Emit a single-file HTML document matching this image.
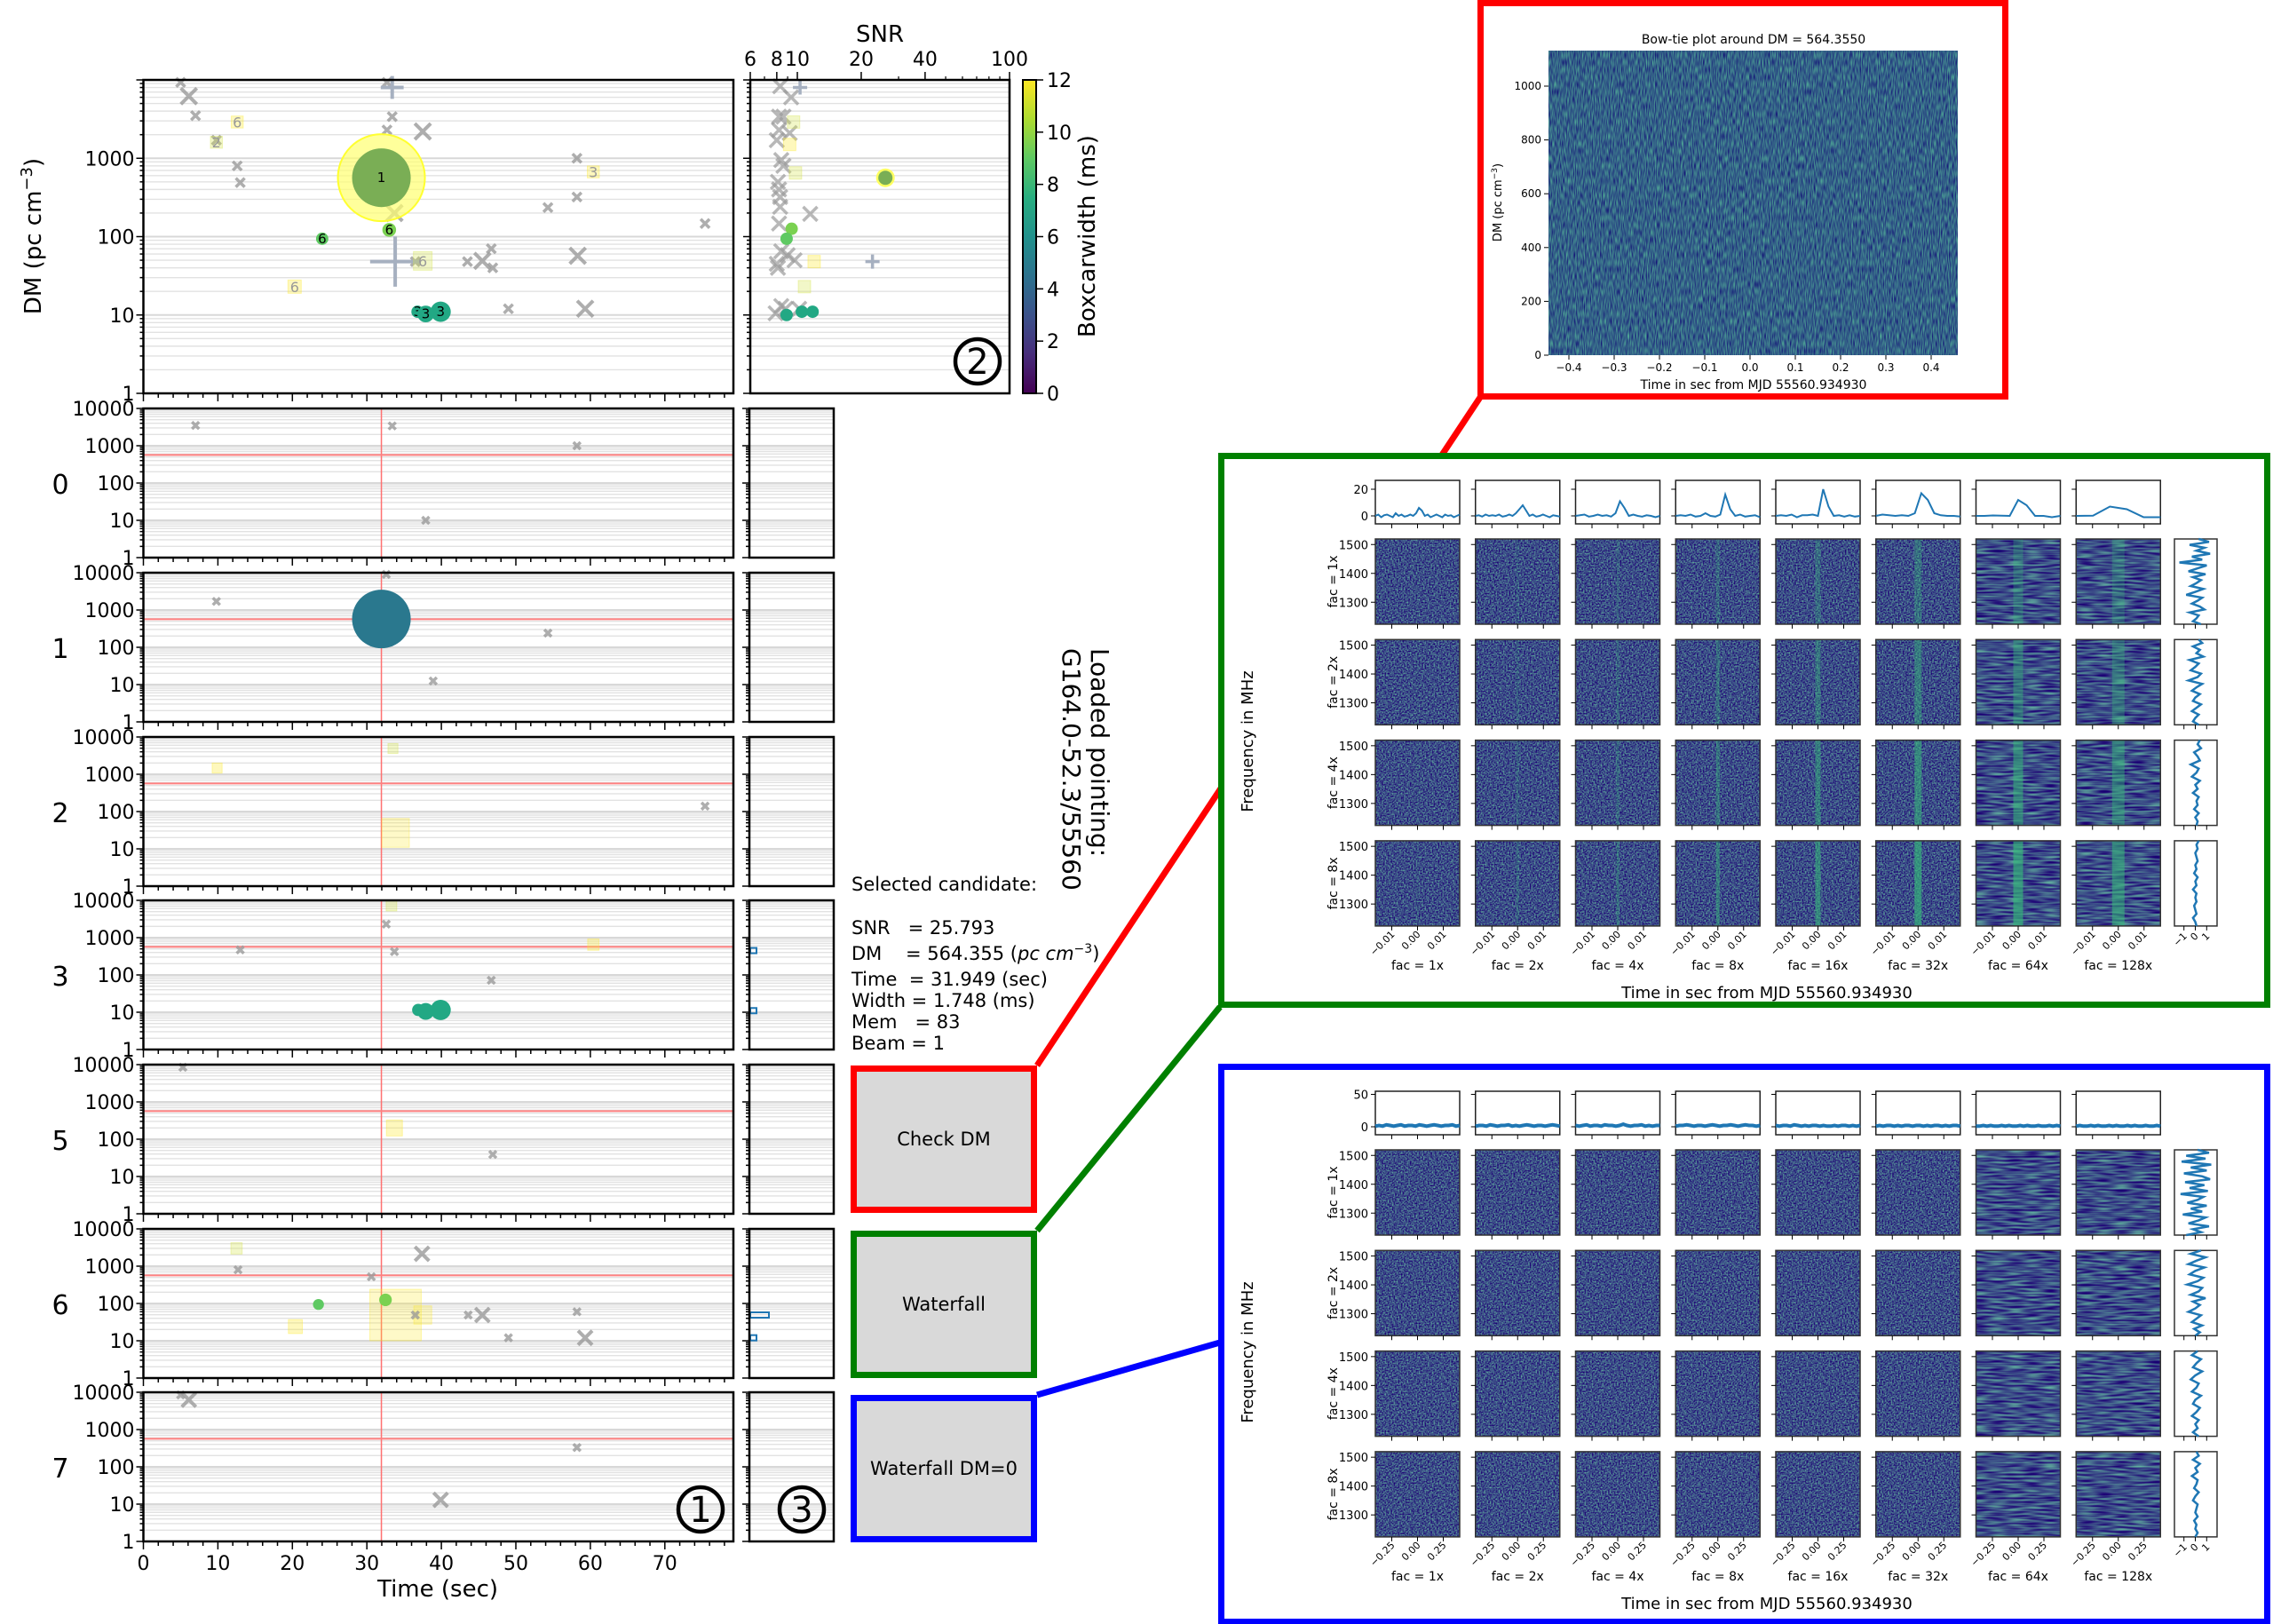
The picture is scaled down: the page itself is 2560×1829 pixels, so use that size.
<!DOCTYPE html>
<html><head><meta charset="utf-8">
<style>
html,body{margin:0;padding:0;background:#fff;}
svg{display:block;font-family:"DejaVu Sans","Liberation Sans",sans-serif;}
</style></head>
<body>
<svg id="fig" xmlns="http://www.w3.org/2000/svg" width="2560" height="1829" viewBox="0 0 2560 1829">
<defs>
<linearGradient id="viridis" x1="0" y1="1" x2="0" y2="0">
<stop offset="0" stop-color="#440154"/><stop offset="0.125" stop-color="#472d7b"/><stop offset="0.25" stop-color="#3b528b"/><stop offset="0.375" stop-color="#2c728e"/><stop offset="0.5" stop-color="#21918c"/><stop offset="0.625" stop-color="#28ae80"/><stop offset="0.75" stop-color="#5ec962"/><stop offset="0.875" stop-color="#addc30"/><stop offset="1" stop-color="#fde725"/>
</linearGradient>
<filter id="nf" x="0" y="0" width="1" height="1" color-interpolation-filters="sRGB"><feTurbulence type="fractalNoise" baseFrequency="0.6 0.6" numOctaves="1" seed="4"/><feColorMatrix type="matrix" values="0.5 0 0 0 -0.02  1.3 0 0 0 -0.35  0.3 0 0 0 0.38  0 0 0 0 1"/></filter>
<filter id="nh" x="0" y="0" width="1" height="1" color-interpolation-filters="sRGB"><feTurbulence type="fractalNoise" baseFrequency="0.05 0.45" numOctaves="1" seed="7"/><feColorMatrix type="matrix" values="0.5 0 0 0 -0.02  1.3 0 0 0 -0.35  0.3 0 0 0 0.38  0 0 0 0 1"/></filter>
<filter id="nv" x="0" y="0" width="1" height="1" color-interpolation-filters="sRGB"><feTurbulence type="fractalNoise" baseFrequency="0.9 0.12" numOctaves="1" seed="9"/><feColorMatrix type="matrix" values="0.4 0 0 0 0.0  1.0 0 0 0 -0.12  0.2 0 0 0 0.43  0 0 0 0 1"/></filter>
</defs>
</svg>
<script>
// ---------------- DATA ----------------
const dmTickLabels=['1','10','100','1000','10000'];
const timeTicks=[0,10,20,30,40,50,60,70];
const snrTicks=[6,8,10,20,40,100];
const cbTicks=[0,2,4,6,8,10,12];
const beamNames=['0','1','2','3','5','6','7'];
const selT=31.949, selDM=564.355;

const mainXT=[5.0,6.1,7.0,9.8,12.6,13.0,32.7,33.4,32.7,37.5,58.2,58.2,54.3,75.4,46.7,43.5,45.5,46.9,36.5,58.3,49.0,59.3,33.7];
const mainXDM=[9300,6200,3500,1700,800,490,9300,3400,2300,2200,1000,320,235,147,70,48,49,40,48,57,12,12,200];
const mainXBig=[0,1,0,0,0,0,0,0,0,1,0,0,0,0,0,0,1,0,0,1,0,1,1];
const mainSqT=[12.6,9.8,60.4,37.5,20.3];
const mainSqDM=[2900,1600,670,49,23];
const mainSqBeam=['6','2','3','6','6'];
const mainSqSNR=[9,9,9,14,10];
const mainCT=[24.0,33.0,36.8,37.9,39.9,31.949];
const mainCDM=[94,122,11,10.3,11,564.355];
const mainCBeam=['6','6','3','3','3','1'];
const mainCW=[9,10,7,7,7,8.5];
const mainCSNR=[8.9,9.4,8.9,10.5,11.8,25.793];
const mainPlusT=[33.4,33.8];
const mainPlusDM=[8000,48];
const mainPlusSNR=[10.3,22.6];

const snrXS=[8.3,9.35,8.2,8.6,8.2,9.2,8.0,8.4,8.6,8.1,8.2,8.3,8.3,11.5,8.2,8.4,9.0,9.7,8.0,8.1,8.4,8.8,7.9,10.2];
const snrXDM=[8300,6000,3400,3400,2300,2100,1700,950,800,500,400,320,240,195,147,65,58,50,45,40,13,12,10.5,12];
const snrSqS=[9.6,9.2,9.8,12.0,10.8];
const snrSqDM=[2900,1500,650,48,23];
const snrCS=[26,9.4,8.9,8.9,10.5,11.8];
const snrCDM=[564,126,94,10,11,11];
const snrCW=[8.5,10,9,7,7,7];
const snrPlusS=[10.3,22.6];
const snrPlusDM=[8000,48];

const beamXT=[[7.0,33.4,58.2,37.9],[32.6,9.8,54.3,38.9],[75.4],[32.6,13.0,33.7,46.7],[5.3,46.9],[12.7,30.6,37.4,36.5,43.6,45.5,49.0,58.2,59.3],[5.0,6.1,58.2,39.9]];
const beamXDM=[[3500,3400,1000,10],[9000,1700,240,12.5],[140],[2300,470,420,72],[8500,39],[800,520,2150,49,49,49,12,60,12],[8500,6300,330,13]];
const beamXBig=[[0,0,0,0],[0,0,0,0],[0],[0,0,0,0],[0,0],[0,0,1,0,0,1,0,0,1],[0,1,0,1]];
const beamSqT=[[],[],[9.9,33.5],[33.3,60.4],[33.7],[12.5,20.4],[]];
const beamSqDM=[[],[],[1470,4900],[7200,650],[200],[3000,24],[]];
const beamSqSNR=[[],[],[7.5,7.5],[8,8.5],[12],[8.5,10.5],[]];
const beamBoxT0=[[],[],[32.0],[],[],[30.4,36.3],[]];
const beamBoxT1=[[],[],[35.7],[],[],[37.3,38.7],[]];
const beamBoxDM0=[[],[],[11],[],[],[10,28],[]];
const beamBoxDM1=[[],[],[65],[],[],[240,86],[]];
const beamCT=[[],[31.949],[],[36.9,37.9,39.9],[],[23.5,32.5],[]];
const beamCDM=[[],[575],[],[11.5,10.5,11.5],[],[94,125],[]];
const beamCW=[[],[5],[],[7,7,7],[],[9,10],[]];
const beamCSNR=[[],[25.8],[],[8.9,10.5,11.8],[],[8.4,9.0],[]];
const histDM=[[],[],[],[450,11],[],[49,12],[]];
const histCount=[[],[],[],[1,1],[],[3,1],[]];

const facLabels=['1x','2x','4x','8x','16x','32x','64x','128x'];
const freqTicks=[1500,1400,1300];
const gProfTicks=['20','0'];
const bProfTicks=['50','0'];
const gTimeTicks=['\u22120.01','0.00','0.01'];
const bTimeTicks=['\u22120.25','0.00','0.25'];
const sideTicks=['\u22121','0','1'];
const gProf=[
[0,1,-1,0.5,1,0,-1,2,0,1,-0.5,0,1,0,2,6,4,0,1,-1,0,1,0,-1,1,0,0.5,-1,0,1],
[0,0.5,-0.5,1,0,0.5,0,1,-0.5,0,1,0,2,5,8,4,0,1,-0.5,0,1,0,-1,0.5,0,-0.5],
[0,0.5,1,-0.5,0,1,0,0.5,-0.5,2,11,6,0,1,0,-0.5,0.5,0,-1,0],
[0,0.5,0,1,-0.5,0,2,0,-0.5,1,16,5,0,1,-0.5,0,0.5,-1],
[0,0.5,0,1,-1,0.5,0.5,1,0,20,7,0,0.5,-0.5,0.5,-0.5,0],
[0,1,0.5,0,0.5,0,2,17,12,2,0.5,0,0,-0.5],
[0,0,0.3,0.2,0,12,8,0,0,-1,0],
[0,0.2,7,5,-1,-1]];
const bProf=[
[1,2,1,3,2,1,2,3,1,2,2,1,3,2,1,2,3,2,1,2,2,3,1,2],
[1,2,2,1,3,2,1,2,2,3,1,2,1,2,3,2,1,2,2,1,2,3,2,1],
[2,1,2,3,1,2,2,1,3,2,2,1,2,4,2,1,2,2,3,1,2,1,2,2],
[1,2,2,3,2,1,2,2,1,2,3,2,1,2,2,3,2,1,2,3,2,2,1,2],
[2,1,2,2,1,3,2,1,2,1,2,2,1,2,1,1,2,1,2,2,1,2,1,2],
[1,2,1,2,2,1,2,1,2,2,1,2,2,1,2,1,2,2,1,2,1,2,2,1],
[1,1,2,1,2,1,1,2,1,2,1,1,2,1,2,1,1,2,1,1,2,1,2,1],
[1,2,1,1,2,1,2,1,1,2,1,2,1,1,2,1,2,1,1,2,1,1,2,1]];
const gSide=[
[0.3,1.2,-0.5,0.8,0.1,1.3,-0.3,0.6,-1.4,1.0,0.2,-0.6,0.9,-0.2,0.5,0.1,-0.4,0.7,0.0,-0.8,0.6,0.2,-0.3,0.4,0.8,-0.5,0.3,0.1,-0.2,0.5],
[0.3,0.6,-0.2,0.4,0.1,0.7,-0.5,0.3,0.0,-0.4,0.5,0.2,-0.6,0.6,0.1,-0.3,0.4,0.0,-0.2,0.5,0.1,-0.3,0.3,0.0,-0.2,0.3],
[0.4,0.2,0.5,-0.1,0.2,0.4,-0.4,0.3,0.1,-0.3,0.4,0.0,0.2,-0.2,0.3,0.1,0.2,-0.1,0.3,0.0,0.2,0.1],
[0.3,0.1,0.2,0.0,0.1,0.2,0.0,0.1,-0.1,0.2,0.0,0.1,-0.2,0.1,0.0,0.1,-0.1,0.0,0.1,-0.2,0.0,0.1]];
const bSide=[
[0.2,1.2,-0.8,0.9,-1.2,1.4,-0.4,1.0,-1.0,0.6,1.3,-0.9,0.8,-0.5,1.1,-1.3,0.7,0.2,-0.7,1.0,-0.4,0.6,-1.1,0.9,0.3,-0.6,1.2,-0.2,0.5,-0.8],
[0.5,-0.4,0.9,0.1,-0.6,0.8,0.0,-0.5,0.7,0.2,-0.7,0.6,0.3,-0.4,0.9,-0.2,0.4,0.0,-0.6,0.5,0.1,-0.3,0.6,-0.1,0.4,0.0],
[0.2,-0.3,0.5,0.1,-0.2,0.6,0.0,-0.4,0.3,0.1,-0.3,0.5,0.0,-0.2,0.4,0.1,-0.3,0.3,0.0,0.2,-0.2,0.3],
[0.1,0.3,-0.2,0.4,0.0,0.2,-0.3,0.2,0.1,-0.1,0.3,0.0,-0.2,0.2,0.1,0.0,0.2,-0.1,0.1,0.0,0.2,0.0]];
const gStripe=[0.05,0.12,0.18,0.25,0.3,0.35,0.35,0.3];
const bowYTicks=[0,200,400,600,800,1000];
const bowXTicks=[-0.4,-0.3,-0.2,-0.1,0.0,0.1,0.2,0.3,0.4];

// ---------------- HELPERS ----------------
const NS='http://www.w3.org/2000/svg';
const svg=document.getElementById('fig');
function mk(tag,attrs,parent){const e=document.createElementNS(NS,tag);for(const k in attrs)e.setAttribute(k,attrs[k]);(parent||svg).appendChild(e);return e;}
function tx(str,attrs,parent){const e=mk('text',attrs,parent);e.textContent=str;return e;}
function grp(name,inter){const g=mk('g',{});return g;}
const L10=Math.log10;
const X0=161.5, XS=8.39, XR=826;
function xT(t){return X0+t*XS;}
const MAIN_T=90, MAIN_B=443, MAIN_D=(MAIN_B-MAIN_T)/4;
function yMain(d){return MAIN_B-L10(d)*MAIN_D;}
const BEAM_TOP=[460,645,830,1014,1199,1384,1568], BEAM_H=168;
function yBeam(i,d){return BEAM_TOP[i]+BEAM_H-L10(d)*(BEAM_H/4);}
const SL=845, SR=1137;
function xSnr(s){return SL+(L10(s)-L10(6))*(SR-SL)/(2-L10(6));}
function cmap(w){const st=[[0,'#440154'],[2,'#472d7b'],[4,'#3b528b'],[5,'#2a788e'],[6,'#21918c'],[7,'#22a884'],[8,'#5ec962'],[9.5,'#7ad151'],[10.5,'#addc30'],[12,'#fde725']];let c=st[0][1];for(const s of st){if(w>=s[0])c=s[1];}return c;}
function rSnr(s){return s>20?s*1.28:4+(s-7)*1.55;}

function gridAndAxes(g,x0,x1,yfun,top,bot,labels,leftTickLabels){
  for(let dd=0;dd<4;dd++)for(let m=1;m<10;m++){const y=yfun(m*Math.pow(10,dd));
    const l=mk('line',{x1:x0,x2:x1,y1:y,y2:y,stroke:m==1?'#d8d8d8':'#e2e2e2','stroke-width':m==1?2:1.4},g);
    
    mk('line',{x1:x0,x2:x0-(m==1?8:4),y1:y,y2:y,stroke:'#000','stroke-width':1.5},g);}
  mk('line',{x1:x0,x2:x0-8,y1:top,y2:top,stroke:'#000','stroke-width':1.5},g);
  if(leftTickLabels){
    for(let k=0;k<labels.length;k++){const y=yfun(Math.pow(10,k));
      const t=tx(labels[k],{x:x0-10,y:y+8,'text-anchor':'end','font-size':22},g);
      }
  }
}
function frame(g,x0,y0,x1,y1,name){const r=mk('rect',{x:x0,y:y0,width:x1-x0,height:y1-y0,fill:'none',stroke:'#000','stroke-width':2.5},g);}
function xTicks(g,bot){for(let t=0;t<=78;t+=2){const x=xT(t);const maj=t%10==0;mk('line',{x1:x,x2:x,y1:bot,y2:bot+(maj?9:5),stroke:'#000','stroke-width':1.5},g);}}
function drawX(g,x,y,h,sw,op){const p=mk('path',{d:`M${x-h},${y-h}L${x+h},${y+h}M${x-h},${y+h}L${x+h},${y-h}`,stroke:'#9a9a9a','stroke-width':sw,'stroke-opacity':op,fill:'none'},g);return p;}
function drawPlus(g,x,y,h,sw){return mk('path',{d:`M${x-h},${y}L${x+h},${y}M${x},${y-h}L${x},${y+h}`,stroke:'#a6b0c0','stroke-width':sw,fill:'none'},g);}
function sqColor(i){return i%2?'#d4e34a':'#fde725';}

// ---------------- MAIN PANEL ----------------
(function(){
  const g=grp('main-dm-time-panel',true);
  gridAndAxes(g,X0,XR,yMain,MAIN_T,MAIN_B,dmTickLabels.slice(0,4),true);
  for(let i=0;i<mainXT.length;i++){
    const p=drawX(g,xT(mainXT[i]),yMain(mainXDM[i]),mainXBig[i]?9:5,mainXBig[i]?4:3.5,0.8);
    }
  for(let i=0;i<mainPlusT.length;i++){
    const p=drawPlus(g,xT(mainPlusT[i]),yMain(mainPlusDM[i]),mainPlusSNR[i]*1.25,4);
    }
  for(let i=0;i<mainSqT.length;i++){
    const s=mainSqSNR[i]*1.5,x=xT(mainSqT[i]),y=yMain(mainSqDM[i]);
    const r=mk('rect',{x:x-s/2,y:y-s/2,width:s,height:s,fill:sqColor(i),'fill-opacity':0.3,stroke:sqColor(i),'stroke-opacity':0.35},g);
    
    const t=tx(mainSqBeam[i],{x:x,y:y+6,'text-anchor':'middle','font-size':16,fill:'#999'},g);
    }
  const last=mainCT.length-1;
  const hx=xT(mainCT[last]),hy=yMain(mainCDM[last]);
  const halo=mk('circle',{cx:hx,cy:hy,r:mainCSNR[last]*1.9,fill:'#ffff70','fill-opacity':0.7,stroke:'#ffff30','stroke-width':2},g);
  
  for(let i=0;i<mainCT.length;i++){
    const x=xT(mainCT[i]),y=yMain(mainCDM[i]);
    const r=rSnr(mainCSNR[i]);
    const c=mk('circle',{cx:x,cy:y,r:r,fill:i==last?'#7aae55':cmap(mainCW[i])},g);
    
    const t=tx(mainCBeam[i],{x:x,y:y+5,'text-anchor':'middle','font-size':i==last?15:15,fill:'#000'},g);
    }
  frame(g,X0,MAIN_T,XR,MAIN_B,'main-axes-frame');
  xTicks(g,MAIN_B);
  const yl=tx('DM (pc cm',{x:0,y:0,'font-size':26,transform:`translate(46,266) rotate(-90)`,'text-anchor':'middle'},g);
  const sup=mk('tspan',{dy:-10,'font-size':18},yl);sup.textContent='\u22123';
  const cl=mk('tspan',{dy:10},yl);cl.textContent=')';
  
})();

// ---------------- SNR PANEL ----------------
(function(){
  const g=grp('snr-dm-panel',true);
  gridAndAxes(g,SL,SR,yMain,MAIN_T,MAIN_B,[],false);
  for(let i=0;i<snrXS.length;i++){const p=drawX(g,xSnr(snrXS[i]),yMain(snrXDM[i]),8,3.5,0.7);
    }
  for(let i=0;i<snrSqS.length;i++){const x=xSnr(snrSqS[i]),y=yMain(snrSqDM[i]);
    const r=mk('rect',{x:x-7,y:y-7,width:14,height:14,fill:sqColor(i+1),'fill-opacity':0.3,stroke:sqColor(i+1),'stroke-opacity':0.35},g);
    }
  for(let i=0;i<snrPlusS.length;i++){const p=drawPlus(g,xSnr(snrPlusS[i]),yMain(snrPlusDM[i]),8,3.5);
    }
  const h=mk('circle',{cx:xSnr(snrCS[0]),cy:yMain(snrCDM[0]),r:10.5,fill:'#ffff60'},g);
  
  for(let i=0;i<snrCS.length;i++){const c=mk('circle',{cx:xSnr(snrCS[i]),cy:yMain(snrCDM[i]),r:i==0?8:7,fill:i==0?'#7aae55':cmap(snrCW[i])},g);
    }
  frame(g,SL,MAIN_T,SR,MAIN_B,'snr-axes-frame');
  for(const s of snrTicks){const x=xSnr(s);mk('line',{x1:x,x2:x,y1:MAIN_T,y2:MAIN_T-9,stroke:'#000','stroke-width':1.5},g);
    const t=tx(String(s),{x:x,y:MAIN_T-16,'text-anchor':'middle','font-size':22},g);
    }
  for(let s=7;s<100;s++){if(snrTicks.indexOf(s)>=0)continue;if(s>10&&s%10)continue;const x=xSnr(s);mk('line',{x1:x,x2:x,y1:MAIN_T,y2:MAIN_T-4,stroke:'#000','stroke-width':1.2},g);}
  const t=tx('SNR',{x:991,y:47,'text-anchor':'middle','font-size':26},g);
  
})();

// ---------------- COLORBAR ----------------
(function(){
  const g=grp('boxcarwidth-colorbar',false);
  const r=mk('rect',{x:1152,y:90,width:15,height:353,fill:'url(#viridis)',stroke:'#000','stroke-width':2},g);
  
  for(const v of cbTicks){const y=443-v/12*353;mk('line',{x1:1167,x2:1175,y1:y,y2:y,stroke:'#000','stroke-width':1.5},g);
    const t=tx(String(v),{x:1179,y:y+8,'font-size':22},g);}
  const l=tx('Boxcarwidth (ms)',{x:0,y:0,'font-size':26,'text-anchor':'middle',transform:'translate(1233,266) rotate(-90)'},g);
  
})();

// ---------------- BEAM PANELS ----------------
for(let b=0;b<7;b++){
  const g=grp('beam-'+beamNames[b]+'-panel',true);
  const top=BEAM_TOP[b],bot=top+BEAM_H;
  const yf=d=>yBeam(b,d);
  gridAndAxes(g,X0,XR,yf,top,bot,dmTickLabels,true);
  const rv=mk('line',{x1:xT(selT),x2:xT(selT),y1:top,y2:bot,stroke:'#ff7070','stroke-width':1.5},g);
  
  const rh=mk('line',{x1:X0,x2:XR,y1:yf(selDM),y2:yf(selDM),stroke:'#ff8080','stroke-width':2},g);
  
  for(let i=0;i<beamBoxT0[b].length;i++){
    const x0=xT(beamBoxT0[b][i]),x1=xT(beamBoxT1[b][i]),y0=yf(beamBoxDM1[b][i]),y1=yf(beamBoxDM0[b][i]);
    const r=mk('rect',{x:x0,y:y0,width:x1-x0,height:y1-y0,fill:'#fde725','fill-opacity':0.25,stroke:'#fde725','stroke-opacity':0.35},g);
    }
  for(let i=0;i<beamSqT[b].length;i++){const s=beamSqSNR[b][i]*1.5,x=xT(beamSqT[b][i]),y=yf(beamSqDM[b][i]);
    const r=mk('rect',{x:x-s/2,y:y-s/2,width:s,height:s,fill:sqColor(i+b),'fill-opacity':0.3,stroke:sqColor(i+b),'stroke-opacity':0.35},g);
    }
  for(let i=0;i<beamXT[b].length;i++){const big=beamXBig[b][i];
    const p=drawX(g,xT(beamXT[b][i]),yf(beamXDM[b][i]),big?8:4,big?4:3.5,0.8);
    }
  for(let i=0;i<beamCT[b].length;i++){const r=rSnr(beamCSNR[b][i]);
    const c=mk('circle',{cx:xT(beamCT[b][i]),cy:yf(beamCDM[b][i]),r:r,fill:cmap(beamCW[b][i])},g);
    }
  frame(g,X0,top,XR,bot,'beam-axes-frame');
  xTicks(g,bot);
  const bl=tx(beamNames[b],{x:68,y:top+BEAM_H/2+12,'text-anchor':'middle','font-size':30},g);
  
  const s=grp('beam-'+beamNames[b]+'-hist-panel',false);
  gridAndAxes(s,844,939,yf,top,bot,[],false);
  for(let i=0;i<histDM[b].length;i++){const y=yf(histDM[b][i]);
    const r=mk('rect',{x:845,y:y-3,width:histCount[b][i]*7,height:6,fill:'none',stroke:'#1f77b4','stroke-width':2},s);
    }
  frame(s,844,top,939,bot,'hist-axes-frame');
}
(function(){
  const g=grp('time-axis',false);
  const bot=BEAM_TOP[6]+BEAM_H;
  for(const t of timeTicks){const l=tx(String(t),{x:xT(t),y:bot+32,'text-anchor':'middle','font-size':22},g);
    }
  const tl=tx('Time (sec)',{x:493,y:bot+62,'text-anchor':'middle','font-size':26},g);
  
})();
[[789,1700,'1','circled-one'],[1101,407,'2','circled-two'],[903,1700,'3','circled-three']].forEach(c=>{
  const g=grp(c[3],false);
  mk('circle',{cx:c[0],cy:c[1],r:25,fill:'none',stroke:'#000','stroke-width':4.5},g);
  tx(c[2],{x:c[0],y:c[1]+14,'text-anchor':'middle','font-size':40},g);
});

// ---------------- TEXT INFO ----------------
(function(){
  const g=grp('selected-candidate-info',false);
  const lines=[['Selected candidate:',1003],['SNR   = 25.793',1052],['DM    = 564.355 (',1081],['Time  = 31.949 (sec)',1110],['Width = 1.748 (ms)',1134],['Mem   = 83',1158],['Beam = 1',1182]];
  lines.forEach((l,i)=>{const t=tx(l[0],{x:959,y:l[1],'font-size':21,'xml:space':'preserve'},g);
    t.setAttribute('style','white-space:pre');
    if(i==2){const a=mk('tspan',{'font-style':'italic'},t);a.textContent='pc cm';const b2=mk('tspan',{dy:-8,'font-size':14},t);b2.textContent='\u22123';const c2=mk('tspan',{dy:8},t);c2.textContent=')';}
    });
  const p=tx('Loaded pointing:',{x:0,y:0,'font-size':28,transform:'translate(1229,730) rotate(90)'},g);
  
  const p2=tx('G164.0-52.3/55560',{x:0,y:0,'font-size':28,transform:'translate(1197,730) rotate(90)'},g);
  
})();

// ---------------- CONNECTORS & BUTTONS ----------------
(function(){
  const g=grp('connector-lines',false);
  mk('line',{x1:1168,y1:1200,x2:1668,y2:446,stroke:'#ff0000','stroke-width':7},g);
  mk('line',{x1:1168,y1:1386,x2:1374,y2:1134,stroke:'#008000','stroke-width':7},g);
  mk('line',{x1:1168,y1:1571,x2:1374,y2:1512,stroke:'#0000ff','stroke-width':7},g);
  [['Check DM',1200,'#ff0000','check-dm-button'],['Waterfall',1386,'#008000','waterfall-button'],['Waterfall DM=0',1571,'#0000ff','waterfall-dm0-button']].forEach(bt=>{
    const b=grp(bt[3],true);
    mk('rect',{x:961.5,y:bt[1]+3.5,width:203,height:159,fill:'#d9d9d9',stroke:bt[2],'stroke-width':7},b);
    tx(bt[0],{x:1063,y:bt[1]+90,'text-anchor':'middle','font-size':21},b);
  });
})();

// ---------------- BOW-TIE ----------------
(function(){
  const g=grp('bow-tie-inset',false);
  mk('rect',{x:1667.5,y:3.5,width:591,height:443,fill:'#fff',stroke:'#ff0000','stroke-width':7},g);
  const im=mk('rect',{x:1744,y:57,width:461,height:343,fill:'#3b6e8e',filter:'url(#nv)'},g);
  
  const yb=d=>400-d*0.303, xb=t=>1971+t*510;
  for(const d of bowYTicks){const y=yb(d);mk('line',{x1:1744,x2:1739,y1:y,y2:y,stroke:'#000'},g);
    const t=tx(String(d),{x:1736,y:y+4,'text-anchor':'end','font-size':12},g);}
  for(const v of bowXTicks){const x=xb(v);mk('line',{x1:x,x2:x,y1:400,y2:405,stroke:'#000'},g);
    const t=tx((v<0?'\u2212':'')+Math.abs(v).toFixed(1),{x:x,y:418,'text-anchor':'middle','font-size':12},g);}
  tx('Bow-tie plot around DM = 564.3550',{x:1975,y:49,'text-anchor':'middle','font-size':14},g);
  tx('Time in sec from MJD 55560.934930',{x:1975,y:438,'text-anchor':'middle','font-size':14},g);
  const yl=tx('DM (pc cm',{x:0,y:0,'font-size':13,'text-anchor':'middle',transform:'translate(1691,228) rotate(-90)'},g);
  const s=mk('tspan',{dy:-5,'font-size':9},yl);s.textContent='\u22123';const c=mk('tspan',{dy:5},yl);c.textContent=')';
})();

// ---------------- WATERFALLS ----------------
function drawWF(oy,color,prof,side,profTicks,profUnit,tTicks,stripe,name){
  const g=grp(name,false);
  mk('rect',{x:1375.5,y:513.5+oy,width:1178,height:oy?625:618,fill:'#fff',stroke:color,'stroke-width':7},g);
  const cx=c=>1549+c*112.75, W=95;
  const pTop=541+oy, pH=49, pZero=pTop+40;
  for(let c=0;c<8;c++){
    const x0=cx(c);
    const fr=mk('rect',{x:x0,y:pTop,width:W,height:pH,fill:'#fff',stroke:'#222','stroke-width':1.5},g);
    
    const v=prof[c];let pts=[];
    for(let i=0;i<v.length;i++){pts.push((x0+i*W/(v.length-1)).toFixed(1)+','+(pZero-v[i]*profUnit).toFixed(1));}
    const pl=mk('polyline',{points:pts.join(' '),fill:'none',stroke:'#1f77b4','stroke-width':oy?4:2},g);
    
    profTicks.forEach((lab,k)=>{const y=k==0?pZero-Number(lab)*profUnit:pZero;mk('line',{x1:x0,x2:x0-5,y1:y,y2:y,stroke:'#000'},g);
      if(c==0){const t=tx(lab,{x:x0-8,y:y+5,'text-anchor':'end','font-size':13},g);}});
    for(let k=-1;k<=1;k++){const x=x0+W/2+k*29;mk('line',{x1:x,x2:x,y1:pTop+pH,y2:pTop+pH+5,stroke:'#000'},g);}
    for(let r=0;r<4;r++){
      const y0=607+oy+r*113.3;
      const im=mk('rect',{x:x0,y:y0,width:W,height:96,fill:'#3d5088',filter:c<6?'url(#nf)':'url(#nh)'},g);
      
      if(stripe){const sw=[2,3,3,4,6,8,11,14][c];mk('rect',{x:x0+W/2-sw/2,y:y0,width:sw,height:96,fill:'#35b779','fill-opacity':stripe[c]*(1+r*0.3)},g);}
      mk('rect',{x:x0,y:y0,width:W,height:96,fill:'none',stroke:'#333','stroke-width':1.5},g);
      freqTicks.forEach(f=>{const y=y0+3+(1510-f)*0.325;mk('line',{x1:x0,x2:x0-5,y1:y,y2:y,stroke:'#000'},g);
        if(c==0){const t=tx(String(f),{x:x0-8,y:y+5,'text-anchor':'end','font-size':13},g);}});
      for(let k=-1;k<=1;k++){const x=x0+W/2+k*29;mk('line',{x1:x,x2:x,y1:y0+96,y2:y0+101,stroke:'#000'},g);}
      if(c==0){const t=tx('fac = '+facLabels[r],{x:0,y:0,'font-size':14,'text-anchor':'middle',transform:`translate(${1506},${y0+48}) rotate(-90)`},g);}
      if(c==7){
        const sx0=2449,sw2=48;
        mk('rect',{x:sx0,y:y0,width:sw2,height:96,fill:'#fff',stroke:'#333','stroke-width':1.5},g);
        const sv=side[r];let sp=[];
        for(let i=0;i<sv.length;i++){sp.push((2472.5+sv[i]*12.8).toFixed(1)+','+(y0+i*96/(sv.length-1)).toFixed(1));}
        const spl=mk('polyline',{points:sp.join(' '),fill:'none',stroke:'#1f77b4','stroke-width':2.5},g);
        
        for(let k=-1;k<=1;k++){const x=2472.5+k*12.8;mk('line',{x1:x,x2:x,y1:y0+96,y2:y0+101,stroke:'#000'},g);
          if(r==3){const t=tx(sideTicks[k+1],{x:0,y:0,'font-size':11,'text-anchor':'end',transform:`translate(${x+4},${y0+108}) rotate(-45)`},g);}}
      }
    }
    const by=607+oy+3*113.3+96;
    for(let k=-1;k<=1;k++){const x=x0+W/2+k*29;const t=tx(tTicks[k+1],{x:0,y:0,'font-size':11,'text-anchor':'end',transform:`translate(${x+4},${by+10}) rotate(-45)`},g);}
    const fl=tx('fac = '+facLabels[c],{x:x0+W/2,y:1092+oy,'text-anchor':'middle','font-size':14},g);
    
  }
  const tt=tx('Time in sec from MJD 55560.934930',{x:1990,y:1124+oy,'text-anchor':'middle','font-size':18},g);
  
  const ft=tx('Frequency in MHz',{x:0,y:0,'font-size':18,'text-anchor':'middle',transform:`translate(1411,${835+oy}) rotate(-90)`},g);
  
}
drawWF(0,'#008000',gProf,gSide,gProfTicks,1.5,gTimeTicks,gStripe,'waterfall-inset');
drawWF(688,'#0000ff',bProf,bSide,bProfTicks,0.73,bTimeTicks,null,'waterfall-dm0-inset');
</script>
</body></html>
